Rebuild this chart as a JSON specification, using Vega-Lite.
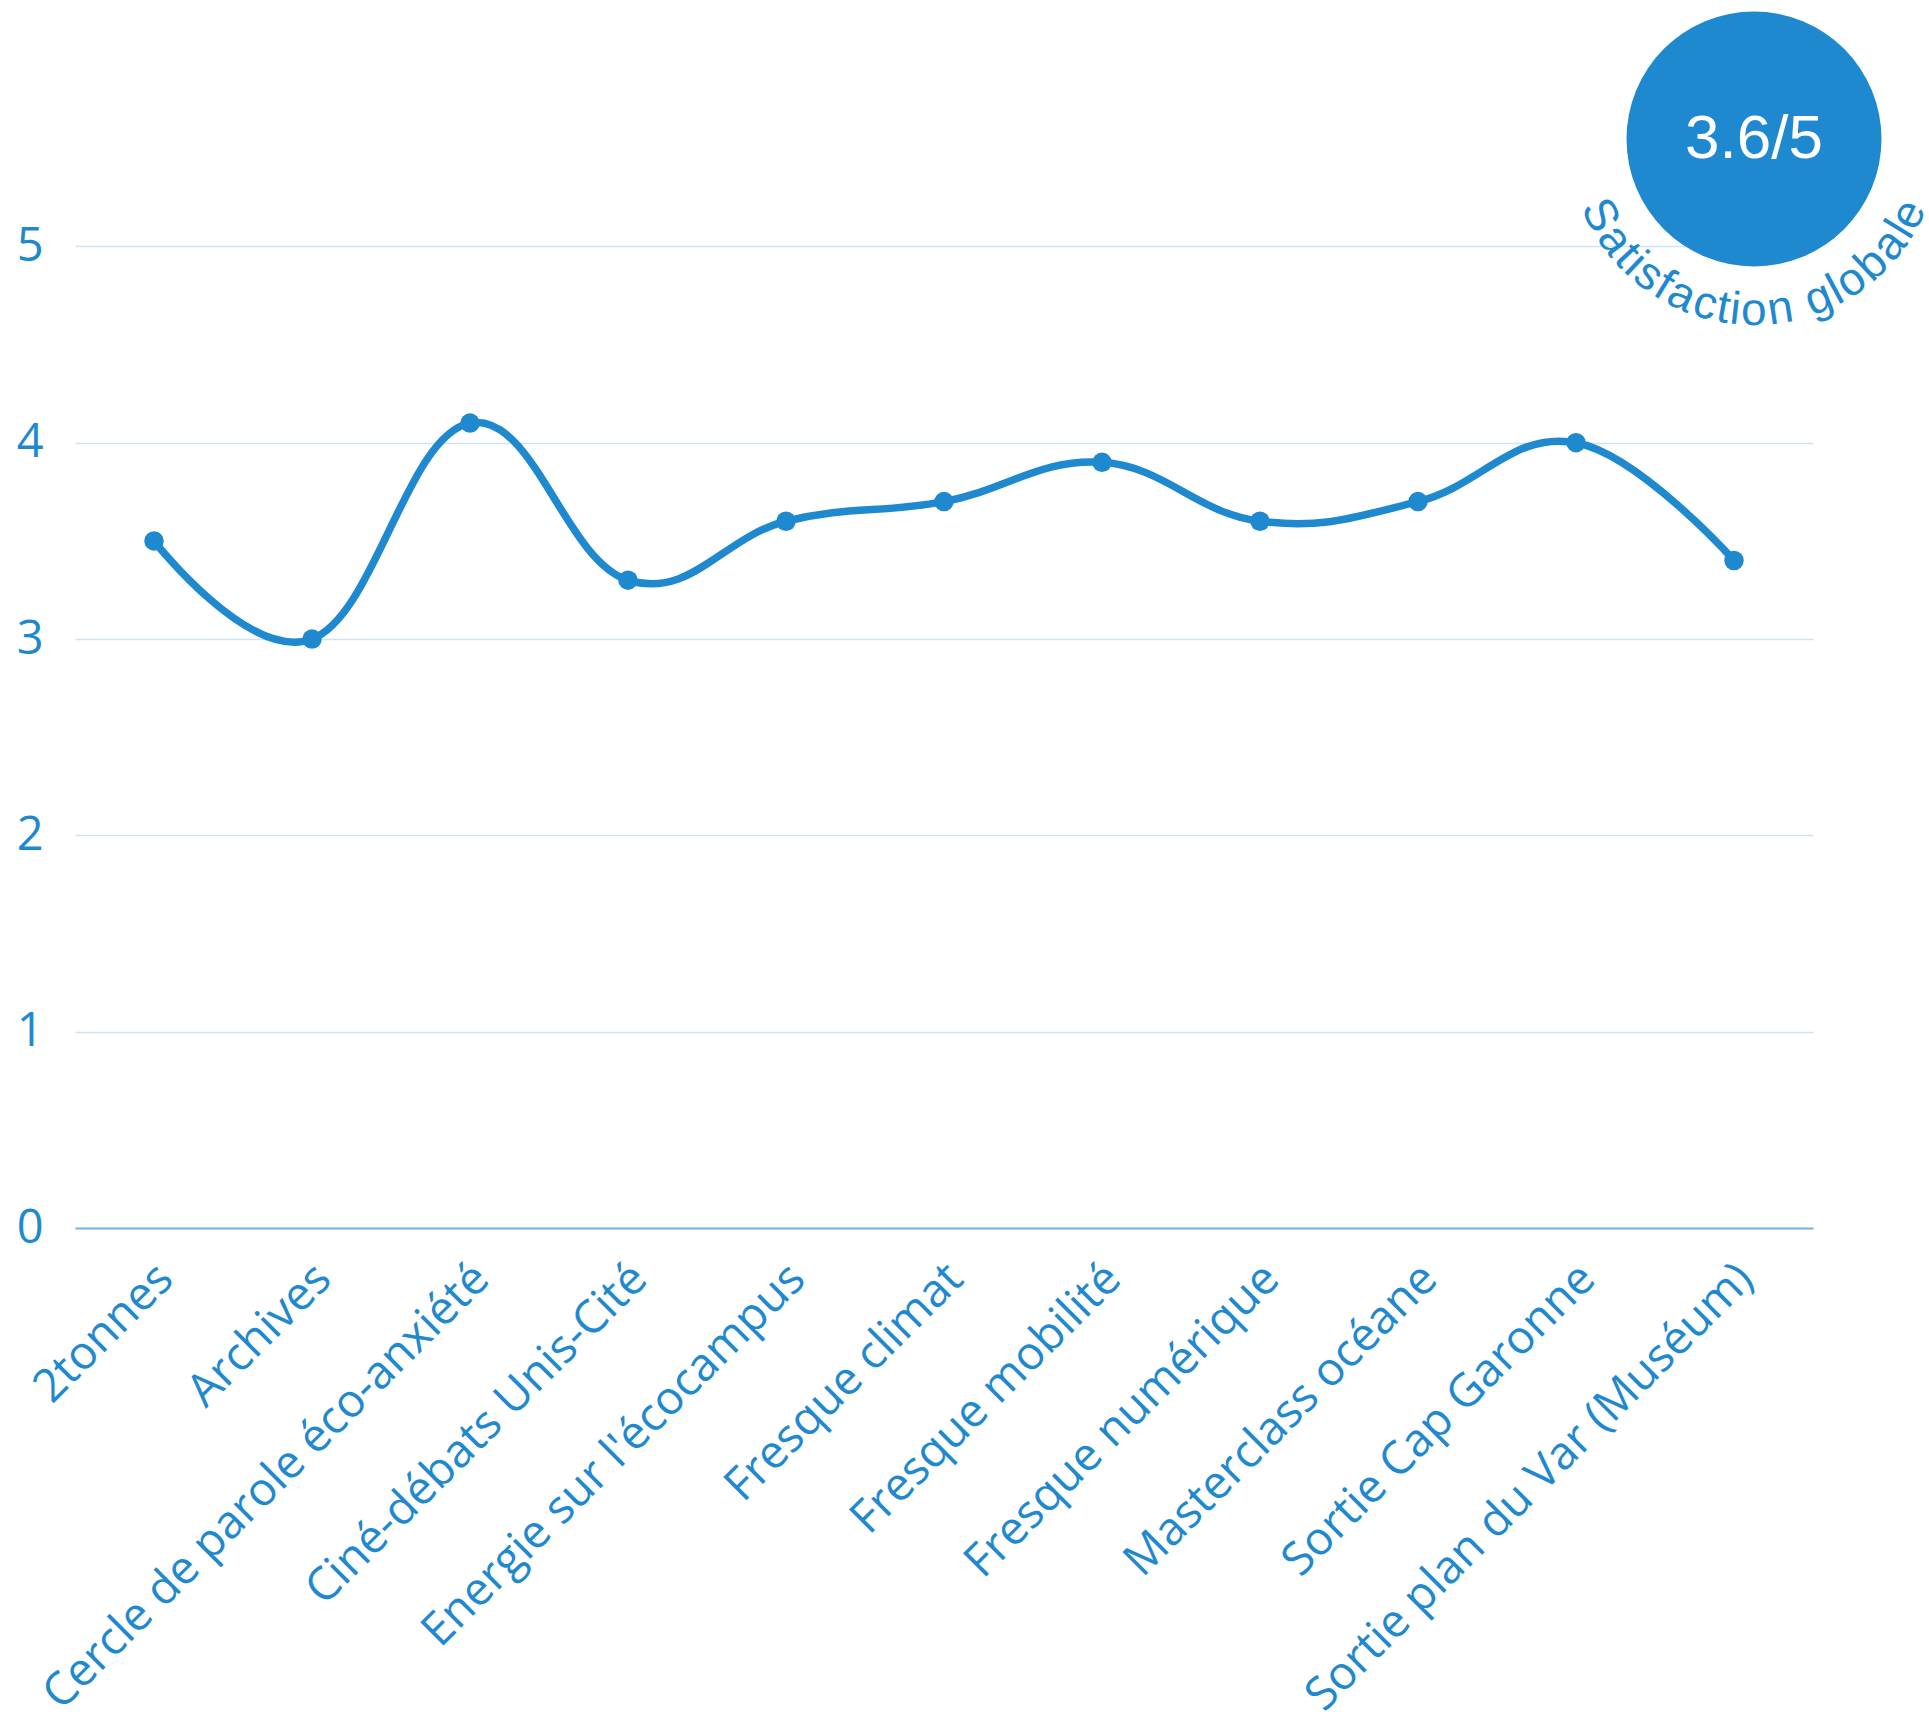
{
  "$schema": "https://vega.github.io/schema/vega-lite/v6.json",
  "width": 1738,
  "height": 1227,
  "autosize": {"type": "none"},
  "padding": {"left": 75, "top": 1, "right": 116, "bottom": 505},
  "background": "#ffffff",
  "config": {"view": {"stroke": null}},
  "datasets": {
    "notes": [
      {"activite": "2tonnes", "note": 3.5},
      {"activite": "Archives", "note": 3.0},
      {"activite": "Cercle de parole éco-anxiété", "note": 4.1},
      {"activite": "Ciné-débats Unis-Cité", "note": 3.3},
      {"activite": "Energie sur l'écocampus", "note": 3.6},
      {"activite": "Fresque climat", "note": 3.7},
      {"activite": "Fresque mobilité", "note": 3.9},
      {"activite": "Fresque numérique", "note": 3.6},
      {"activite": "Masterclass océane", "note": 3.7},
      {"activite": "Sortie Cap Garonne", "note": 4.0},
      {"activite": "Sortie plan du Var (Muséum)", "note": 3.4}
    ],
    "badge": [{"label": "3.6/5"}],
    "arc": [
      {"ch": "S", "i": 0}, {"ch": "a", "i": 1}, {"ch": "t", "i": 2}, {"ch": "i", "i": 3},
      {"ch": "s", "i": 4}, {"ch": "f", "i": 5}, {"ch": "a", "i": 6}, {"ch": "c", "i": 7},
      {"ch": "t", "i": 8}, {"ch": "i", "i": 9}, {"ch": "o", "i": 10}, {"ch": "n", "i": 11},
      {"ch": " ", "i": 12}, {"ch": "g", "i": 13}, {"ch": "l", "i": 14}, {"ch": "o", "i": 15},
      {"ch": "b", "i": 16}, {"ch": "a", "i": 17}, {"ch": "l", "i": 18}, {"ch": "e", "i": 19}
    ]
  },
  "layer": [
    {
      "data": {"name": "notes"},
      "mark": {"type": "line", "interpolate": "cardinal", "tension": -0.2, "color": "#1f89d0", "strokeWidth": 7.5, "strokeCap": "round"},
      "encoding": {
        "x": {
          "field": "activite", "type": "nominal", "sort": null,
          "scale": {"type": "point", "padding": 0.5},
          "axis": {
            "title": null, "domain": false, "ticks": false, "tickSize": 0, "grid": false,
            "labelAngle": -45, "labelAlign": "right", "labelBaseline": "middle",
            "labelOffset": 11, "labelPadding": 43, "labelFont": "Open Sans",
            "labelFontSize": 46, "labelColor": "#1f89d0", "labelLimit": 0, "labelOverlap": false
          }
        },
        "y": {
          "field": "note", "type": "quantitative",
          "scale": {"domain": [0, 6.25], "nice": false, "zero": true},
          "axis": {
            "title": null, "domain": false, "ticks": false, "tickSize": 0, "format": "d",
            "values": [0, 1, 2, 3, 4, 5], "labelPadding": 32,
            "labelFont": "Open Sans", "labelFontSize": 47, "labelColor": "#1f89d0",
            "gridColor": {"condition": {"test": "datum.value === 0", "value": "#72b2e2"}, "value": "#cde4f4"},
            "gridWidth": {"condition": {"test": "datum.value === 0", "value": 2}, "value": 1.5}
          }
        }
      }
    },
    {
      "data": {"name": "notes"},
      "mark": {"type": "point", "shape": "circle", "filled": true, "opacity": 1, "size": 380, "color": "#1f89d0"},
      "encoding": {
        "x": {"field": "activite", "type": "nominal", "sort": null},
        "y": {"field": "note", "type": "quantitative"}
      }
    },
    {
      "data": {"name": "badge"},
      "mark": {"type": "point", "shape": "circle", "filled": true, "opacity": 1, "size": 65025, "color": "#1f89d0", "xOffset": 20, "clip": false},
      "encoding": {
        "x": {"datum": "Sortie plan du Var (Muséum)", "type": "nominal"},
        "y": {"datum": 5.547, "type": "quantitative"}
      }
    },
    {
      "data": {"name": "badge"},
      "mark": {"type": "text", "color": "#ffffff", "font": "Liberation Sans", "fontSize": 62, "align": "center", "baseline": "middle", "xOffset": 20, "clip": false},
      "encoding": {
        "x": {"datum": "Sortie plan du Var (Muséum)", "type": "nominal"},
        "y": {"datum": 5.547, "type": "quantitative"},
        "text": {"field": "label"}
      }
    },
    {
      "data": {"name": "arc"},
      "mark": {"type": "text", "color": "#1f89d0", "font": "Liberation Sans", "fontSize": 46, "align": "center", "baseline": "alphabetic", "radius": 186, "xOffset": 20, "clip": false},
      "encoding": {
        "x": {"datum": "Sortie plan du Var (Muséum)", "type": "nominal"},
        "y": {"datum": 5.547, "type": "quantitative"},
        "theta": {"field": "i", "type": "quantitative", "scale": {
          "domain": [0, 1, 2, 3, 4, 5, 6, 7, 8, 9, 10, 11, 12, 13, 14, 15, 16, 17, 18, 19],
          "range": [4.2534, 4.0838, 3.968, 3.8986, 3.7984, 3.6905, 3.5748, 3.4282, 3.3203, 3.2508, 3.143, 2.9887, 2.873, 2.7571, 2.6492, 2.5412, 2.3869, 2.2326, 2.1248, 2.0254],
          "zero": false}},
        "angle": {"field": "i", "type": "quantitative", "scale": {
          "domain": [0, 1, 2, 3, 4, 5, 6, 7, 8, 9, 10, 11, 12, 13, 14, 15, 16, 17, 18, 19],
          "range": [63.7, 53.98, 47.35, 43.37, 37.63, 31.45, 24.82, 16.42, 10.24, 6.26, 0.08, -8.76, -15.39, -22.03, -28.21, -34.4, -43.24, -52.08, -58.26, -63.95],
          "zero": false}, "legend": null},
        "text": {"field": "ch"}
      }
    }
  ]
}
